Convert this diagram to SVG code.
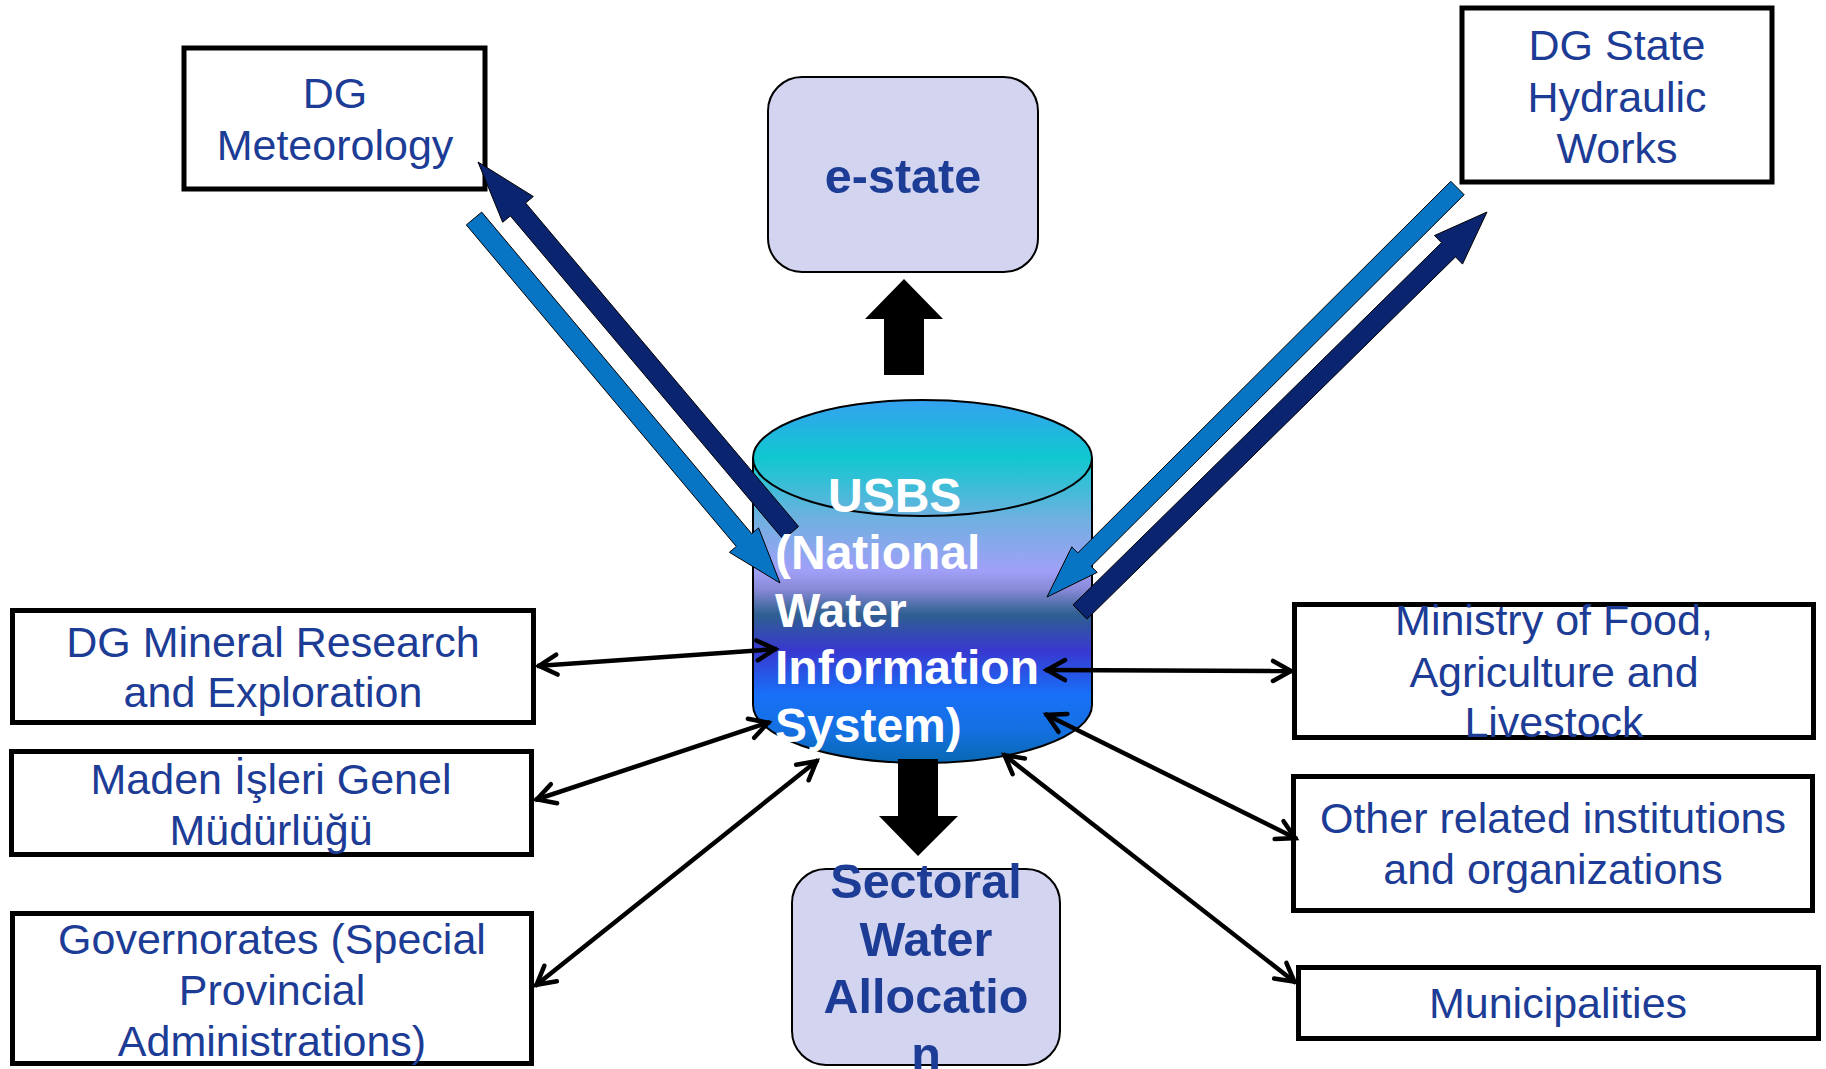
<svg xmlns="http://www.w3.org/2000/svg" width="1826" height="1069" viewBox="0 0 1826 1069">
<defs>
<style>
.box{fill:#ffffff;stroke:#000000;stroke-width:5}
.rbox{fill:#D2D4F0;stroke:#000000;stroke-width:2}
.t{font-family:"Liberation Sans",Arial,sans-serif;fill:#1C3C96;text-anchor:middle;font-size:43px}
.tb{font-family:"Liberation Sans",Arial,sans-serif;font-weight:bold;font-size:48.5px;fill:#1C3C96;text-anchor:middle}
.cyl{font-family:"Liberation Sans",Arial,sans-serif;font-weight:bold;font-size:48px;fill:#ffffff}
.thin{stroke:#000000;stroke-width:4.5;fill:none;marker-start:url(#oh);marker-end:url(#oh)}
.dark{fill:#0A2470;stroke:#000000;stroke-width:1}
.light{fill:#0874C4;stroke:#000000;stroke-width:1}
.blk{fill:#000000}
</style>
<linearGradient id="cg" gradientUnits="userSpaceOnUse" x1="0" y1="399" x2="0" y2="764">
<stop offset="0" stop-color="#35A0F0"/>
<stop offset="0.16" stop-color="#10C8D0"/>
<stop offset="0.33" stop-color="#70B0E0"/>
<stop offset="0.47" stop-color="#A0A0F8"/>
<stop offset="0.52" stop-color="#8A8AD8"/>
<stop offset="0.59" stop-color="#2F6090"/>
<stop offset="0.69" stop-color="#3838D0"/>
<stop offset="0.81" stop-color="#1870F8"/>
<stop offset="0.91" stop-color="#1470E0"/>
<stop offset="1" stop-color="#0868B0"/>
</linearGradient>
<marker id="oh" markerUnits="userSpaceOnUse" markerWidth="30" markerHeight="30" viewBox="-26 -15 30 30" refX="0" refY="0" orient="auto-start-reverse" overflow="visible">
<path d="M-20,-10 L-2,0 L-20,10" fill="none" stroke="#000000" stroke-width="4.5" stroke-linecap="round"/>
</marker>
</defs>
<rect width="1826" height="1069" fill="#ffffff"/>

<g id="dg-meteorology">
<rect class="box" x="184" y="48" width="301" height="141"/>
<text class="t" x="335" y="108">DG</text>
<text class="t" x="335" y="160">Meteorology</text>
</g>

<g id="e-state">
<rect class="rbox" x="768" y="77" width="270" height="195" rx="34"/>
<text class="tb" x="903" y="193">e-state</text>
</g>

<g id="dg-state-hydraulic">
<rect class="box" x="1462" y="8" width="310" height="174"/>
<text class="t" x="1617" y="60">DG State</text>
<text class="t" x="1617" y="112">Hydraulic</text>
<text class="t" x="1617" y="163">Works</text>
</g>

<g id="dg-mineral">
<rect class="box" x="12.5" y="610.5" width="521" height="112"/>
<text class="t" x="273" y="657">DG Mineral Research</text>
<text class="t" x="273" y="707">and Exploration</text>
</g>

<g id="maden">
<rect class="box" x="11.5" y="751.5" width="520" height="103"/>
<text class="t" x="271" y="794">Maden İşleri Genel</text>
<text class="t" x="271" y="845">Müdürlüğü</text>
</g>

<g id="governorates">
<rect class="box" x="12.5" y="913.5" width="519" height="150"/>
<text class="t" x="272" y="954">Governorates (Special</text>
<text class="t" x="272" y="1005">Provincial</text>
<text class="t" x="272" y="1056">Administrations)</text>
</g>

<g id="ministry">
<rect class="box" x="1294.5" y="604.5" width="519" height="133"/>
<text class="t" x="1554" y="635">Ministry of Food,</text>
<text class="t" x="1554" y="687">Agriculture and</text>
<text class="t" x="1554" y="737">Livestock</text>
</g>

<g id="other-institutions">
<rect class="box" x="1293.5" y="776.5" width="519" height="134"/>
<text class="t" x="1553" y="833">Other related institutions</text>
<text class="t" x="1553" y="884">and organizations</text>
</g>

<g id="municipalities">
<rect class="box" x="1298.5" y="967.5" width="520" height="71"/>
<text class="t" x="1558" y="1018">Municipalities</text>
</g>

<g id="sectoral">
<rect class="rbox" x="792" y="869" width="268" height="196" rx="34"/>
<text class="tb" x="926" y="898">Sectoral</text>
<text class="tb" x="926" y="956">Water</text>
<text class="tb" x="926" y="1013">Allocatio</text>
<text class="tb" x="926" y="1071">n</text>
</g>

<g id="usbs">
<path d="M753,458 A169.5,58 0 0 1 1092,458 L1092,705 A169.5,58 0 0 1 753,705 Z" fill="url(#cg)" stroke="#000000" stroke-width="2"/>
<path d="M753,458 A169.5,58 0 0 0 1092,458" fill="none" stroke="#000000" stroke-width="2"/>
</g>

<g id="connectors">
<polygon class="dark" points="798.6,526.5 525.6,203.0 533.3,196.5 478,162 502.7,222.3 510.4,215.9 783.4,539.5"/>
<polygon class="light" points="481.7,212.1 751.7,533.7 758.6,527.9 780,583 729.4,552.3 736.3,546.5 466.3,224.9"/>
<polygon class="light" points="1464.2,194.7 1091.2,566.3 1097.2,572.4 1047,597 1071.8,546.8 1077.8,552.9 1450.8,181.3"/>
<polygon class="dark" points="1087.0,619.1 1455.5,256.9 1462.5,264.1 1487,212 1434.5,235.5 1441.5,242.7 1073.0,604.9"/>
<polygon class="blk" points="904,279 943,319 924,319 924,375 884,375 884,319 865,319"/>
<polygon class="blk" points="898,759 938,759 938,816 958,816 918,856 879,816 898,816"/>
<line class="thin" x1="537" y1="666" x2="777" y2="649"/>
<line class="thin" x1="535" y1="800" x2="770" y2="722"/>
<line class="thin" x1="535" y1="986" x2="818" y2="760"/>
<line class="thin" x1="1045" y1="670" x2="1293" y2="671"/>
<line class="thin" x1="1045" y1="714" x2="1297" y2="839"/>
<line class="thin" x1="1003" y1="754" x2="1296" y2="983"/>
</g>

<g id="usbs-label">
<text class="cyl" x="828" y="512">USBS</text>
<text class="cyl" x="775" y="569">(National</text>
<text class="cyl" x="775" y="627">Water</text>
<text class="cyl" x="775" y="684">Information</text>
<text class="cyl" x="775" y="742">System)</text>
</g>
</svg>
